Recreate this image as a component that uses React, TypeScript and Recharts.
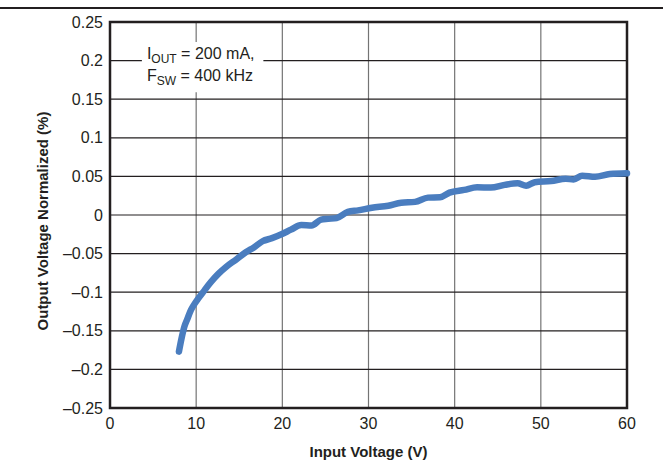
import React from 'react';
import { LineChart, Line, XAxis, YAxis, CartesianGrid, ReferenceArea } from 'recharts';

// (V in, % deviation)
const inputVoltage = [
  8.0, 8.3, 8.65, 9.0, 9.4, 10.0, 11.0, 11.7, 12.6, 13.5, 14.6, 15.8, 16.7, 17.7, 18.8,
  19.9, 21.0, 22.2, 23.4, 24.5, 25.3, 26.3, 27.6, 28.8, 30.4, 32.3, 33.8, 35.4, 36.9,
  38.3, 39.4, 41.1, 42.6, 44.2, 45.8, 47.3, 48.3, 49.3, 51.2, 52.9, 53.8, 54.8, 56.3,
  58.0, 60.0,
];
const outputNormalized = [
  -0.177, -0.16, -0.144, -0.134, -0.123, -0.112, -0.097, -0.087, -0.076, -0.067, -0.058,
  -0.048, -0.042, -0.034, -0.03, -0.025, -0.019, -0.013, -0.0135, -0.006, -0.005, -0.004,
  0.004, 0.006, 0.0095, 0.012, 0.016, 0.017, 0.0225, 0.023, 0.029, 0.0325, 0.036, 0.0355,
  0.039, 0.041, 0.038, 0.0425, 0.044, 0.047, 0.046, 0.051, 0.0495, 0.053, 0.054,
];
const xTicks = [0, 10, 20, 30, 40, 50, 60];
const yTicks = [-0.25, -0.2, -0.15, -0.1, -0.05, 0, 0.05, 0.1, 0.15, 0.2, 0.25];

const data = inputVoltage.map((v, i) => ({ vin: v, vout: outputNormalized[i] }));

const FONT = "'Liberation Sans', Arial, sans-serif";
const INK = '#231f20';

const formatY = (v: number) => (v < 0 ? '\u2013' + String(Math.abs(v)) : String(v));

const Annotation = (props: any) => {
  const vb = props.viewBox || {};
  const x = vb.x + 5;
  const y = vb.y;
  return (
    <g fontFamily={FONT} fill={INK}>
      <text x={x} y={y + 17} fontSize={16}>
        <tspan>I</tspan>
        <tspan fontSize={12} dy={4}>OUT</tspan>
        <tspan dy={-4}>{' = 200 mA,'}</tspan>
      </text>
      <text x={x} y={y + 39} fontSize={16}>
        <tspan>F</tspan>
        <tspan fontSize={12} dy={4}>SW</tspan>
        <tspan dy={-4}>{' = 400 kHz'}</tspan>
      </text>
    </g>
  );
};

const XTitle = (props: any) => {
  const vb = props.viewBox || {};
  return (
    <text x={vb.x + vb.width / 2} y={vb.y + 49} textAnchor="middle" fontFamily={FONT}
      fontSize={15} fontWeight={700} fill={INK}>
      Input Voltage (V)
    </text>
  );
};

const YTitle = () => (
  <text x={42} y={221} textAnchor="middle" dominantBaseline="central" transform="rotate(-90, 42, 221)"
    fontFamily={FONT} fontSize={15} fontWeight={700} fill={INK}>
    Output Voltage Normalized (%)
  </text>
);

export default function App() {
  return (
    <div style={{ position: 'absolute', left: 0, top: 0, width: 663, height: 461, background: '#fff' }}>
      <div style={{ position: 'absolute', left: 0, top: 7, width: 663, height: 2, background: INK }} />
      <LineChart width={663} height={461} data={data} margin={{ top: 22, right: 36, bottom: 3, left: 0 }}>
        <CartesianGrid horizontal={false} vertical stroke="#747474" strokeWidth={1.2} />
        <CartesianGrid horizontal vertical={false} stroke={INK} strokeWidth={1.2} />
        <XAxis
          type="number"
          dataKey="vin"
          domain={[0, 60]}
          ticks={xTicks}
          axisLine={false}
          tickLine={false}
          tickSize={0}
          tickMargin={10}
          height={50}
          tick={{ fontFamily: FONT, fontSize: 16, fill: INK }}
          label={<XTitle />}
        />
        <YAxis
          type="number"
          domain={[-0.25, 0.25]}
          ticks={yTicks}
          width={110}
          axisLine={false}
          tickLine={false}
          tickSize={0}
          tickMargin={7}
          tickFormatter={formatY}
          tick={{ fontFamily: FONT, fontSize: 16, fill: INK }}
          label={<YTitle />}
        />
        {/* white box behind the test conditions */}
        <ReferenceArea x1={3.7} x2={17.8} y1={0.159} y2={0.224} fill="#fff" fillOpacity={1} stroke="none"
          label={<Annotation />} />
        <Line
          type="monotone"
          dataKey="vout"
          stroke="#4a7dbf"
          strokeWidth={6.5}
          strokeLinecap="round"
          strokeLinejoin="round"
          dot={false}
          isAnimationActive={false}
        />
        {/* plot frame */}
        <ReferenceArea x1={0} x2={60} y1={-0.25} y2={0.25} fill="none" stroke={INK} strokeWidth={2.5} />
      </LineChart>
    </div>
  );
}
